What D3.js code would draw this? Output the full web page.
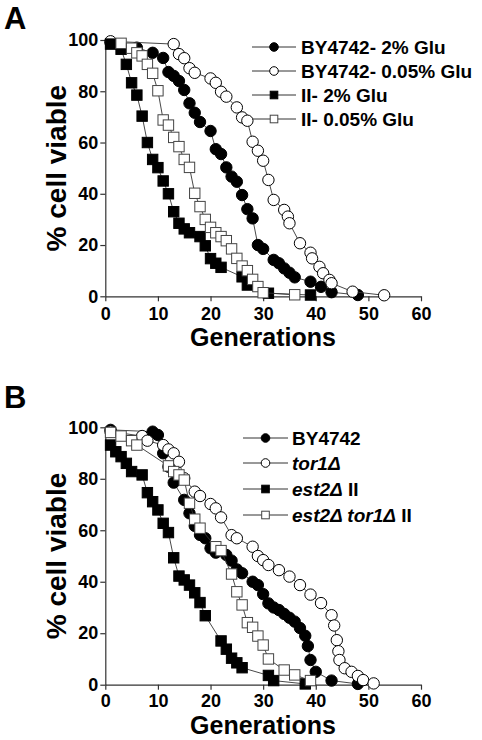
<!DOCTYPE html>
<html><head><meta charset="utf-8">
<script src="https://cdn.jsdelivr.net/npm/d3@7"></script>
<style>body{margin:0;background:#fff}svg{display:block}text{font-family:Arial,"Liberation Sans",sans-serif;font-weight:bold}</style>
</head><body><svg id="c" width="482" height="740"></svg>
<script>
// ---------- DATA ----------
const xTicks = [0, 10, 20, 30, 40, 50, 60];
const yTicks = [0, 20, 40, 60, 80, 100];

// Panel A
const a_by2_gen  = [1, 6, 9, 11, 12, 13, 14, 15, 16, 17, 18, 20, 21, 22, 23, 24, 25, 26, 27, 28, 29, 30, 32, 33, 34, 35, 36, 39, 41, 43, 48];
const a_by2_pct  = [99, 97, 95, 93, 87.5, 86, 84, 80.5, 75.3, 71.6, 68, 64.5, 57.4, 55.5, 50.3, 46.7, 44.7, 39.5, 34, 30.4, 20, 18.5, 14.2, 12.9, 10.9, 9.2, 7.4, 5.7, 3.7, 1.6, 0.5];
const a_by005_gen = [1, 13, 14, 15, 16, 17, 20, 21, 22, 23, 25, 26, 27, 28, 29, 30, 31, 32, 34, 34.7, 35, 37, 39, 39.3, 40.7, 41.4, 42.6, 43, 47, 53];
const a_by005_pct = [99.5, 98.4, 94.5, 92.9, 89, 87.2, 85, 83.3, 79.8, 77.9, 73.7, 69.8, 68.5, 60.3, 56.8, 52.9, 45.4, 37.6, 33.7, 31.1, 28.5, 20.7, 17, 14.8, 11.5, 9, 6.4, 5.1, 1.8, 0.4];
const a_ii2_gen  = [1, 3, 4, 5, 6, 7, 8, 9, 10, 11, 12, 13, 14, 15, 16, 18, 19, 20, 21, 22, 26, 27, 31, 39];
const a_ii2_pct  = [98.4, 96.4, 90.5, 83.3, 78.5, 70.3, 60, 53.4, 50.2, 45, 40, 33, 28.5, 26.3, 24.8, 23.3, 19.7, 14.7, 12.9, 11.3, 7.6, 4.4, 1.2, 0.5];
const a_ii005_gen = [3, 5, 6, 7, 8, 9, 10, 11, 12, 13, 14, 15, 16, 17, 18, 19, 20, 21, 22, 23, 24, 25, 26, 27, 28, 29, 30, 36];
const a_ii005_pct = [98.7, 96.8, 95, 93.8, 90.5, 87, 80.2, 68.8, 66.8, 62, 58.4, 53.4, 50.3, 40.2, 35, 30, 26.9, 24.8, 23.3, 21.7, 18.5, 14.8, 11.8, 10, 6.6, 3.8, 1.4, 0.6];
const legendA = ["BY4742- 2% Glu", "BY4742- 0.05% Glu", "II- 2% Glu", "II- 0.05% Glu"];

// Panel B
const b_by_gen   = [1, 9, 10, 11, 12, 13, 15, 16, 17, 18, 19, 20, 21, 23, 24, 25, 26, 28, 29, 30, 31, 32, 33, 34, 35, 36, 37, 38, 38.5, 39, 40, 43, 48];
const b_by_pct   = [99, 98.3, 97, 89.9, 84.7, 78.5, 71.8, 66.6, 61.7, 58.2, 56.9, 53, 51.3, 50.4, 48.2, 44.8, 43.3, 40, 38.7, 35.2, 31.6, 30, 29, 27.5, 26, 24.5, 22, 19, 15, 9.6, 5, 1.6, 0.3];
const b_tor_gen  = [1, 7, 8, 11, 12, 13, 14, 15, 17, 18, 20, 21, 22, 24, 25, 28, 29, 30, 31, 33, 35, 37, 39, 41, 43, 43.5, 44, 44.3, 44.5, 45.5, 46.8, 48, 49, 51];
const b_tor_pct  = [98.3, 96.6, 94.8, 93.1, 91.4, 89.9, 86.6, 80.2, 75, 73.3, 70.2, 68.5, 65, 58.1, 56.9, 53.6, 50, 48.4, 46.5, 44.5, 42, 38.7, 35, 31.7, 27, 23, 17.3, 13, 9.6, 6.4, 5, 3.4, 1.8, 0.5];
const b_est_gen  = [1, 2, 3, 4, 5, 7, 8, 9, 10, 11, 12, 13, 14, 15, 16, 17, 18, 19, 22, 23, 24, 25, 26, 31, 32, 38];
const b_est_pct  = [93.1, 90.5, 88.6, 86, 82.8, 81.5, 74.6, 71.1, 67.9, 62.7, 59.1, 49.3, 42.2, 40.7, 38.7, 35.7, 31.9, 26.8, 17, 13.8, 10.3, 8.5, 6.6, 3.6, 1.6, 0.3];
const b_esttor_gen = [1, 3, 5, 6, 12, 13, 14, 15, 16, 17, 18, 21, 22, 24, 25, 26, 27, 28, 29, 30, 31, 34, 36, 39];
const b_esttor_pct = [98, 96.6, 94.8, 93.1, 85, 82.8, 81.5, 79.5, 70.5, 64.3, 60.8, 53.6, 52.1, 43, 36.1, 31, 24.1, 22.3, 18.9, 15.4, 10, 5.7, 3.8, 1.6];

// ---------- DRAW ----------
const svg = d3.select("#c");
const LINE = "#333";

function zip(g, p) { return g.map((v, i) => [v, p[i]]); }

function marker(sel, type, x, y, s) {
  if (type === "fc" || type === "oc") {
    sel.append("circle").attr("cx", x).attr("cy", y).attr("r", s)
      .attr("fill", type === "fc" ? "#000" : "#fff").attr("stroke", "#000").attr("stroke-width", 1);
  } else {
    sel.append("rect").attr("x", x - s).attr("y", y - s).attr("width", 2 * s).attr("height", 2 * s)
      .attr("fill", type === "fs" ? "#000" : "#fff").attr("stroke", type === "fs" ? "#000" : "#444").attr("stroke-width", 1);
  }
}

function panel(cfg) {
  const x = d3.scaleLinear().domain([0, 60]).range([105.3, 421]);
  const y = d3.scaleLinear().domain([0, 100]).range([cfg.y0, cfg.y100]);
  const g = svg.append("g");

  const ax = g.append("g").attr("transform", `translate(0,${cfg.y0})`)
    .call(d3.axisBottom(x).tickValues(xTicks).tickSize(5).tickSizeOuter(0).tickPadding(cfg.xPad));
  const ay = g.append("g").attr("transform", `translate(105.3,0)`)
    .call(d3.axisLeft(y).tickValues(yTicks).tickSize(5).tickSizeOuter(0).tickPadding(2));
  [ax, ay].forEach(a => {
    a.select(".domain").attr("stroke", LINE).attr("stroke-width", 1.2);
    a.selectAll(".tick line").attr("stroke", LINE).attr("stroke-width", 1.2);
    a.selectAll(".tick text").attr("fill", "#000").style("font-size", "18px").style("font-weight", "bold")
      .style("font-family", "Arial, 'Liberation Sans', sans-serif");
  });

  cfg.series.forEach(s => {
    const pts = zip(s.gen, s.pct);
    g.append("path").datum(pts)
      .attr("d", d3.line().x(d => x(d[0])).y(d => y(d[1])))
      .attr("fill", "none").attr("stroke", LINE).attr("stroke-width", 0.9);
    const mg = g.append("g");
    pts.forEach(d => marker(mg, s.type, x(d[0]), y(d[1]), s.type[1] === "c" ? 5.7 : 5.2));
  });

  // legend
  cfg.series.forEach((s, i) => {
    const ly = cfg.legY[i];
    g.append("line").attr("x1", cfg.legX0).attr("x2", cfg.legX1).attr("y1", ly).attr("y2", ly)
      .attr("stroke", LINE).attr("stroke-width", 1);
    marker(g, s.type, (cfg.legX0 + cfg.legX1) / 2, ly, s.type[1] === "c" ? 4.3 : 3.8);
    const t = g.append("text").attr("x", cfg.legTX).attr("y", ly + 7).style("font-size", "19px");
    s.label.forEach(part => {
      t.append("tspan").text(part[0]).style("font-style", part[1] ? "italic" : "normal");
    });
  });

  // titles
  g.append("text").attr("x", 263).attr("y", cfg.genY).attr("text-anchor", "middle")
    .style("font-size", "25px").text("Generations");
  g.append("text").attr("transform", `translate(66,${(cfg.y0 + cfg.y100) / 2}) rotate(-90)`)
    .attr("text-anchor", "middle").style("font-size", "28px").text("% cell viable");
  g.append("text").attr("x", 4).attr("y", cfg.labY).style("font-size", "31px").text(cfg.letter);
}

panel({
  letter: "A", labY: 29, y0: 296.3, y100: 40, genY: 346, xPad: 6,
  legX0: 252, legX1: 296, legTX: 301, legY: [47, 71, 95, 119],
  series: [
    { gen: a_by2_gen, pct: a_by2_pct, type: "fc", label: [[legendA[0], false]] },
    { gen: a_by005_gen, pct: a_by005_pct, type: "oc", label: [[legendA[1], false]] },
    { gen: a_ii2_gen, pct: a_ii2_pct, type: "fs", label: [[legendA[2], false]] },
    { gen: a_ii005_gen, pct: a_ii005_pct, type: "os", label: [[legendA[3], false]] }
  ]
});

panel({
  letter: "B", labY: 408, y0: 684.7, y100: 427.3, genY: 734, xPad: 5,
  legX0: 243, legX1: 288, legTX: 292, legY: [438, 463, 489, 515],
  series: [
    { gen: b_by_gen, pct: b_by_pct, type: "fc", label: [["BY4742", false]] },
    { gen: b_tor_gen, pct: b_tor_pct, type: "oc", label: [["tor1Δ", true]] },
    { gen: b_est_gen, pct: b_est_pct, type: "fs", label: [["est2Δ", true], [" II", false]] },
    { gen: b_esttor_gen, pct: b_esttor_pct, type: "os", label: [["est2Δ tor1Δ", true], [" II", false]] }
  ]
});
</script></body></html>
